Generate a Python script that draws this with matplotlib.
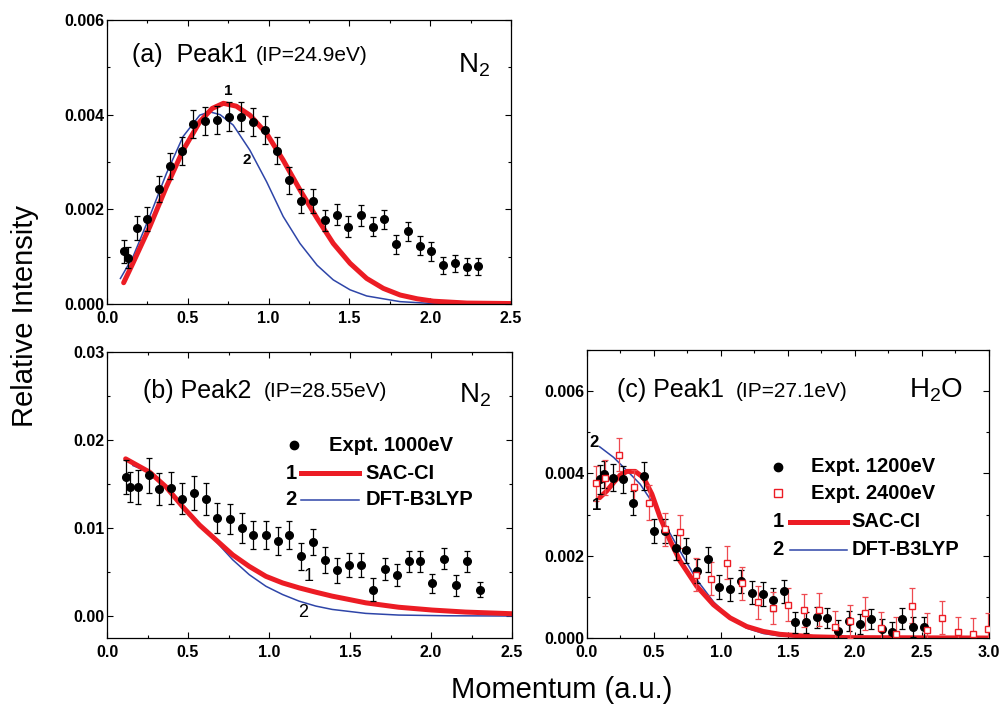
#!/usr/bin/env python3
# -*- coding: utf-8 -*-

import matplotlib
matplotlib.use('Agg')
import matplotlib.pyplot as plt
from matplotlib.ticker import MultipleLocator, FormatStrFormatter


plt.rcParams['font.family'] = ['Liberation Sans', 'DejaVu Sans']
plt.rcParams['mathtext.default'] = 'regular'

red = '#ec1c24'
blue = '#2e45a8'
red_err = '#ee4a50'

# ---- (a) N2 Peak1, expt 1000eV
a_x = [0.103, 0.130, 0.186, 0.250, 0.320, 0.388, 0.463, 0.533, 0.609, 0.682,
       0.756, 0.830, 0.903, 0.977, 1.054, 1.126, 1.198, 1.275, 1.349, 1.421,
       1.494, 1.570, 1.643, 1.715, 1.789, 1.862, 1.934, 2.006, 2.080, 2.153,
       2.225, 2.298]
a_y = [0.00111, 0.00098, 0.00161, 0.00179, 0.00243, 0.00292, 0.00323, 0.00380,
       0.00387, 0.00389, 0.00396, 0.00396, 0.00385, 0.00368, 0.00324, 0.00261,
       0.00218, 0.00218, 0.00177, 0.00189, 0.00163, 0.00187, 0.00163, 0.00179,
       0.00126, 0.00154, 0.00123, 0.00111, 0.00082, 0.00086, 0.00079, 0.00080]
a_err = [0.00025, 0.00022, 0.00025, 0.00025, 0.00028, 0.00028, 0.0003, 0.0003,
         0.0003, 0.0003, 0.0003, 0.0003, 0.0003, 0.0003, 0.00028, 0.00028,
         0.00025, 0.00025, 0.00022, 0.00022, 0.00022, 0.00022, 0.0002, 0.0002,
         0.0002, 0.0002, 0.0002, 0.0002, 0.00018, 0.00018, 0.00018, 0.00018]
a_sac_x = [0.103, 0.16, 0.264, 0.368, 0.471, 0.574, 0.65, 0.72, 0.80, 0.884,
           0.988, 1.09, 1.194, 1.30, 1.40, 1.504, 1.607, 1.71, 1.814, 1.92,
           2.02, 2.227, 2.5]
a_sac_y = [0.00045, 0.00086, 0.00163, 0.00248, 0.00325, 0.00385, 0.00413,
           0.00424, 0.00418, 0.00399, 0.0036, 0.00304, 0.00241, 0.00181,
           0.00128, 0.00086, 0.00054, 0.00033, 0.00019, 0.00011, 0.00006,
           0.00002, 0.00001]
a_dft_x = [0.083, 0.161, 0.264, 0.368, 0.471, 0.574, 0.636, 0.70, 0.781,
           0.884, 0.988, 1.09, 1.194, 1.30, 1.40, 1.504, 1.607, 1.814, 2.02,
           2.5]
a_dft_y = [0.00054, 0.00100, 0.00185, 0.00276, 0.00354, 0.00399, 0.00406,
           0.00400, 0.00378, 0.00325, 0.00258, 0.00185, 0.00128, 0.00082,
           0.00051, 0.0003, 0.00017, 0.00005, 0.00001, 0.0]

# ---- (b) N2 Peak2
b_x = [0.119, 0.144, 0.191, 0.257, 0.324, 0.392, 0.464, 0.538, 0.612, 0.681,
       0.757, 0.831, 0.903, 0.979, 1.053, 1.125, 1.197, 1.273, 1.346, 1.420,
       1.494, 1.568, 1.640, 1.714, 1.788, 1.862, 1.935, 2.005, 2.081, 2.153,
       2.225, 2.301]
b_y = [0.0158, 0.01466, 0.01466, 0.0160, 0.0144, 0.01455, 0.01335, 0.0140,
       0.01327, 0.01109, 0.01102, 0.01004, 0.00917, 0.00917, 0.00857, 0.00917,
       0.00677, 0.00838, 0.00639, 0.00519, 0.00579, 0.00579, 0.00301, 0.00534,
       0.00466, 0.0062, 0.0062, 0.00372, 0.0065, 0.0035, 0.0062, 0.00301]
b_err = [0.0019, 0.0017, 0.0019, 0.0020, 0.0018, 0.0018, 0.0018, 0.0019,
         0.0018, 0.0017, 0.0017, 0.0017, 0.0016, 0.0016, 0.0016, 0.0016,
         0.0015, 0.0015, 0.0015, 0.0014, 0.0014, 0.0014, 0.0013, 0.0013,
         0.0013, 0.0012, 0.0012, 0.0011, 0.0012, 0.0012, 0.0012, 0.0009]
b_sac_x = [0.115, 0.263, 0.365, 0.468, 0.571, 0.673, 0.776, 0.878, 0.981,
           1.084, 1.186, 1.289, 1.39, 1.494, 1.597, 1.80, 2.007, 2.213, 2.5]
b_sac_y = [0.01786, 0.01635, 0.01466, 0.0124, 0.01034, 0.00865, 0.00695,
           0.00564, 0.00451, 0.00376, 0.0032, 0.00271, 0.00226, 0.00188,
           0.0015, 0.0010, 0.00068, 0.00045, 0.00026]
b_dft_x = [0.16, 0.263, 0.365, 0.468, 0.571, 0.673, 0.776, 0.878, 0.981,
           1.084, 1.186, 1.289, 1.39, 1.597, 1.80, 2.1, 2.5]
b_dft_y = [0.0171, 0.01635, 0.01466, 0.0124, 0.01034, 0.00846, 0.00639,
           0.0047, 0.00338, 0.00244, 0.00169, 0.00113, 0.00075, 0.0003,
           0.00011, 0.00003, 0.0]

# ---- (c) H2O Peak1
c1_x = [0.094, 0.129, 0.191, 0.266, 0.340, 0.422, 0.502, 0.581, 0.663, 0.742,
        0.824, 0.901, 0.988, 1.068, 1.147, 1.229, 1.311, 1.391, 1.473, 1.552,
        1.634, 1.713, 1.793, 1.875, 1.957, 2.036, 2.118, 2.198, 2.277, 2.354,
        2.434, 2.513]
c1_y = [0.00386, 0.00398, 0.0039, 0.00386, 0.00328, 0.00394, 0.0026, 0.0026,
        0.0022, 0.00213, 0.00163, 0.00191, 0.00124, 0.00118, 0.00138, 0.0011,
        0.00107, 0.00093, 0.00114, 0.00038, 0.00038, 0.0005, 0.00049, 0.00018,
        0.00041, 0.00034, 0.00046, 0.00022, 0.00015, 0.00047, 0.00027, 0.00026]
c1_err = [0.00035, 0.00033, 0.00033, 0.00033, 0.0003, 0.00033, 0.0003, 0.0003,
          0.0003, 0.0003, 0.0003, 0.0003, 0.00028, 0.00028, 0.00028, 0.00028,
          0.00028, 0.00028, 0.00028, 0.00025, 0.00025, 0.00025, 0.00025,
          0.00025, 0.00025, 0.00025, 0.00025, 0.00025, 0.00025, 0.00025,
          0.00025, 0.00025]
c2_x = [0.067, 0.132, 0.238, 0.353, 0.464, 0.579, 0.695, 0.812, 0.926, 1.043,
        1.160, 1.274, 1.386, 1.502, 1.619, 1.733, 1.850, 1.964, 2.078, 2.193,
        2.309, 2.424, 2.538, 2.652, 2.767, 2.881, 2.993]
c2_y = [0.00376, 0.0039, 0.00445, 0.00366, 0.00329, 0.00264, 0.00258, 0.00154,
        0.00144, 0.00183, 0.00133, 0.00087, 0.00073, 0.00081, 0.00068, 0.00069,
        0.00027, 0.00041, 0.0006, 0.00024, 0.00011, 0.00079, 0.0002, 0.00049,
        0.00014, 0.00011, 0.00023]
c2_err = [0.00043, 0.00042, 0.0004, 0.00042, 0.00042, 0.0004, 0.0004, 0.0004,
          0.0004, 0.0004, 0.0004, 0.0004, 0.0004, 0.0004, 0.0004, 0.0004,
          0.00038, 0.0004, 0.0004, 0.0004, 0.0004, 0.00043, 0.0004, 0.0004,
          0.00038, 0.00038, 0.00038]
c_sac_x = [0.094, 0.149, 0.199, 0.248, 0.298, 0.36, 0.422, 0.484, 0.546,
           0.621, 0.695, 0.819, 0.944, 1.068, 1.192, 1.316, 1.44, 1.69, 1.94,
           3.0]
c_sac_y = [0.00341, 0.00358, 0.00378, 0.00396, 0.00405, 0.00405, 0.0039,
           0.0035, 0.00293, 0.00236, 0.00187, 0.00126, 0.00081, 0.00049,
           0.00028, 0.00016, 0.00009, 0.00003, 0.00001, 0.0]
c_dft_x = [0.094, 0.199, 0.298, 0.397, 0.497, 0.596, 0.695, 0.819, 0.944,
           1.068, 1.192, 1.316, 1.44, 1.69, 3.0]
c_dft_y = [0.00465, 0.00439, 0.00407, 0.00374, 0.00325, 0.00268, 0.00211,
           0.00142, 0.00088, 0.00049, 0.00024, 0.00011, 0.00005, 0.00001, 0.0]


fig = plt.figure(figsize=(10.01, 7.09), dpi=100)
ax_a = fig.add_axes([0.1069, 0.5712, 0.4036, 0.4006])
ax_b = fig.add_axes([0.1069, 0.1001, 0.4046, 0.4034])
ax_c = fig.add_axes([0.5864, 0.1001, 0.4016, 0.4062])


def style(ax, xmax, ymin, ymax, ymajor, yfmt):
    ax.set_xlim(0, xmax)
    ax.set_ylim(ymin, ymax)
    ax.xaxis.set_major_locator(MultipleLocator(0.5))
    ax.xaxis.set_minor_locator(MultipleLocator(0.25))
    ax.yaxis.set_major_locator(MultipleLocator(ymajor))
    ax.yaxis.set_minor_locator(MultipleLocator(ymajor / 2))
    ax.xaxis.set_major_formatter(FormatStrFormatter('%.1f'))
    ax.yaxis.set_major_formatter(FormatStrFormatter(yfmt))
    ax.tick_params(which='both', top=True, right=True, direction='in',
                   width=0.8, labelsize=11.5)
    ax.tick_params(which='major', length=4)
    ax.tick_params(which='minor', length=2.5)
    ax.tick_params(axis='x', pad=5)
    ax.tick_params(axis='y', pad=2)
    for lab in ax.get_xticklabels() + ax.get_yticklabels():
        lab.set_fontweight('bold')
    for sp in ax.spines.values():
        sp.set_linewidth(0.9)


def expt(ax, x, y, err, fmt, color, ecolor, mfc, ms):
    ax.errorbar(x, y, yerr=err, fmt=fmt, color=color, ecolor=ecolor,
                mfc=mfc, mec=color, ms=ms, elinewidth=0.9, capsize=2.2,
                capthick=0.9, zorder=3)


# (a)
ax_a.plot(a_dft_x, a_dft_y, color=blue, lw=1.1, zorder=2)
ax_a.plot(a_sac_x, a_sac_y, color=red, lw=3.6, zorder=2,
          solid_capstyle='round')
expt(ax_a, a_x, a_y, a_err, 'o', 'black', 'black', 'black', 5.5)
style(ax_a, 2.5, 0, 0.006, 0.002, '%.3f')
ax_a.text(0.155, 0.00526, '(a)  Peak1', fontsize=18, va='center')
ax_a.text(0.92, 0.00524, '(IP=24.9eV)', fontsize=15, va='center')
ax_a.text(2.17, 0.00505, 'N$_2$', fontsize=20, va='center')
ax_a.text(0.75, 0.00449, '1', fontsize=11, fontweight='bold',
          ha='center', va='center')
ax_a.text(0.865, 0.00304, '2', fontsize=11, fontweight='bold',
          ha='center', va='center')

# (b)
ax_b.plot(b_dft_x, b_dft_y, color=blue, lw=1.1, zorder=2)
ax_b.plot(b_sac_x, b_sac_y, color=red, lw=3.6, zorder=2,
          solid_capstyle='round')
expt(ax_b, b_x, b_y, b_err, 'o', 'black', 'black', 'black', 5.5)
style(ax_b, 2.5, -0.0025, 0.03, 0.01, '%.2f')
ax_b.text(0.224, 0.0256, '(b) Peak2', fontsize=18, va='center')
ax_b.text(0.969, 0.0255, '(IP=28.55eV)', fontsize=15, va='center')
ax_b.text(2.17, 0.0251, 'N$_2$', fontsize=20, va='center')
ax_b.text(1.244, 0.0045, '1', fontsize=13, ha='center', va='center')
ax_b.text(1.211, 0.0004, '2', fontsize=13, ha='center', va='center')

# legend (b), drawn in axes fraction
tr = ax_b.transAxes
ax_b.plot([0.462], [0.674], 'o', color='black', ms=6, transform=tr)
ax_b.text(0.548, 0.674, 'Expt. 1000eV', transform=tr, fontsize=14.5,
          fontweight='bold', va='center')
ax_b.text(0.454, 0.576, '1', transform=tr, fontsize=14.5,
          fontweight='bold', va='center', ha='center')
ax_b.plot([0.479, 0.622], [0.576, 0.576], color=red, lw=3.6, transform=tr)
ax_b.text(0.639, 0.576, 'SAC-CI', transform=tr, fontsize=14.5,
          fontweight='bold', va='center')
ax_b.text(0.454, 0.483, '2', transform=tr, fontsize=14.5,
          fontweight='bold', va='center', ha='center')
ax_b.plot([0.479, 0.622], [0.483, 0.483], color=blue, lw=1.1, transform=tr)
ax_b.text(0.639, 0.483, 'DFT-B3LYP', transform=tr, fontsize=14.5,
          fontweight='bold', va='center')

# (c)
ax_c.plot(c_dft_x, c_dft_y, color=blue, lw=1.1, zorder=2)
ax_c.plot(c_sac_x, c_sac_y, color=red, lw=3.6, zorder=2,
          solid_capstyle='round')
expt(ax_c, c1_x, c1_y, c1_err, 'o', 'black', 'black', 'black', 5.5)
expt(ax_c, c2_x, c2_y, c2_err, 's', red, red_err, 'white', 4.5)
style(ax_c, 3.0, 0, 0.007, 0.002, '%.3f')
ax_c.text(0.222, 0.00602, '(c) Peak1', fontsize=18, va='center')
ax_c.text(1.11, 0.00600, '(IP=27.1eV)', fontsize=15, va='center')
ax_c.text(2.40, 0.00602, 'H$_2$O', fontsize=20, va='center')
ax_c.text(0.05, 0.00476, '2', fontsize=12, fontweight='bold',
          ha='center', va='center')
ax_c.text(0.074, 0.00322, '1', fontsize=12, fontweight='bold',
          ha='center', va='center')

tr = ax_c.transAxes
ax_c.plot([0.474], [0.594], 'o', color='black', ms=6, transform=tr)
ax_c.text(0.557, 0.594, 'Expt. 1200eV', transform=tr, fontsize=14.5,
          fontweight='bold', va='center')
ax_c.plot([0.474], [0.502], 's', color=red, mfc='white', ms=6, transform=tr)
ax_c.text(0.557, 0.502, 'Expt. 2400eV', transform=tr, fontsize=14.5,
          fontweight='bold', va='center')
ax_c.text(0.476, 0.403, '1', transform=tr, fontsize=14.5,
          fontweight='bold', va='center', ha='center')
ax_c.plot([0.505, 0.646], [0.403, 0.403], color=red, lw=3.6, transform=tr)
ax_c.text(0.658, 0.403, 'SAC-CI', transform=tr, fontsize=14.5,
          fontweight='bold', va='center')
ax_c.text(0.476, 0.307, '2', transform=tr, fontsize=14.5,
          fontweight='bold', va='center', ha='center')
ax_c.plot([0.505, 0.646], [0.307, 0.307], color=blue, lw=1.1, transform=tr)
ax_c.text(0.658, 0.307, 'DFT-B3LYP', transform=tr, fontsize=14.5,
          fontweight='bold', va='center')

fig.text(0.025, 0.555, 'Relative Intensity', rotation=90, fontsize=21,
         ha='center', va='center')
fig.text(0.561, 0.027, 'Momentum (a.u.)', fontsize=21,
         ha='center', va='center')

fig.savefig('out.png', dpi=100)
